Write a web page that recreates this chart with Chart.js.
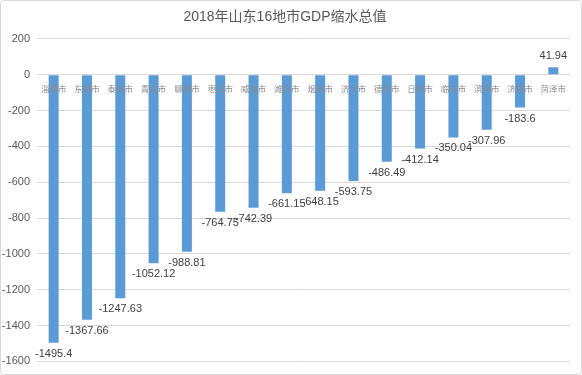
<!DOCTYPE html>
<html>
<head>
<meta charset="utf-8">
<script src="https://cdn.jsdelivr.net/npm/chart.js@4"></script>
<style>
html,body{margin:0;padding:0;background:#fff;}
#wrap{width:582px;height:375px;position:relative;}
</style>
</head>
<body>
<div id="wrap"><canvas id="c" width="582" height="375"></canvas></div>
<script>
const titleText = '2018年山东16地市GDP缩水总值';
const cities = ['淄博市','东营市','泰安市','青岛市','聊城市','枣庄市','威海市','潍坊市','烟台市','济宁市','德州市','日照市','临沂市','滨州市','济南市','菏泽市'];
const gdpDrop = [-1495.4,-1367.66,-1247.63,-1052.12,-988.81,-764.75,-742.39,-661.15,-648.15,-593.75,-486.49,-412.14,-350.04,-307.96,-183.6,41.94];
const yMin = -1600, yMax = 200, yStep = 200;

const borderPlugin = {
  id: 'frame',
  beforeDraw(chart) {
    const ctx = chart.ctx;
    ctx.save();
    ctx.fillStyle = '#fff';
    ctx.fillRect(0, 0, chart.width, chart.height);
    ctx.strokeStyle = '#d9d9d9';
    ctx.lineWidth = 1;
    ctx.beginPath();
    ctx.roundRect(0.5, 0.5, chart.width - 1, chart.height - 1, 3);
    ctx.stroke();
    ctx.restore();
  }
};

const valueLabels = {
  id: 'valueLabels',
  afterDatasetsDraw(chart) {
    const ctx = chart.ctx;
    const meta = chart.getDatasetMeta(0);
    const xs = chart.scales.x, ys = chart.scales.y;
    const zeroY = ys.getPixelForValue(0);
    ctx.save();
    ctx.font = '8.5px "Noto Sans CJK SC", sans-serif';
    ctx.fillStyle = '#8c8c8c';
    ctx.textAlign = 'center';
    ctx.textBaseline = 'middle';
    cities.forEach((c, i) => {
      ctx.fillText(c, xs.getPixelForValue(i), zeroY + 14);
    });
    ctx.font = '11px "Liberation Sans", Arial, sans-serif';
    ctx.fillStyle = '#404040';
    meta.data.forEach((bar, i) => {
      const v = gdpDrop[i];
      const y = v < 0 ? bar.y + 11 : bar.y - 11;
      ctx.fillText(String(v), bar.x, y);
    });
    ctx.restore();
  }
};

new Chart(document.getElementById('c'), {
  type: 'bar',
  data: {
    labels: cities,
    datasets: [{
      data: gdpDrop,
      backgroundColor: '#5B9BD5',
      barPercentage: 0.3,
      categoryPercentage: 1
    }]
  },
  options: {
    responsive: false,
    animation: false,
    layout: { padding: { left: 0, right: 12, top: 0, bottom: 6 } },
    plugins: {
      legend: { display: false },
      tooltip: { enabled: false },
      title: {
        display: true,
        text: titleText,
        color: '#595959',
        font: { size: 14, family: '"Liberation Sans", "Noto Sans CJK SC", sans-serif', weight: 'normal' },
        padding: { top: 9, bottom: 13 }
      }
    },
    scales: {
      x: {
        position: { y: 0 },
        grid: { display: false, drawTicks: false },
        border: { display: false },
        ticks: { display: false }
      },
      y: {
        min: yMin,
        max: yMax,
        grid: { color: '#d9d9d9', drawTicks: false },
        border: { display: false },
        afterFit(scale) { scale.width = 37; },
        ticks: {
          stepSize: yStep,
          color: '#595959',
          padding: 7,
          callback: (v) => String(v),
          font: { size: 11, family: '"Liberation Sans", Arial, sans-serif' }
        }
      }
    }
  },
  plugins: [borderPlugin, valueLabels]
});
</script>
</body>
</html>
